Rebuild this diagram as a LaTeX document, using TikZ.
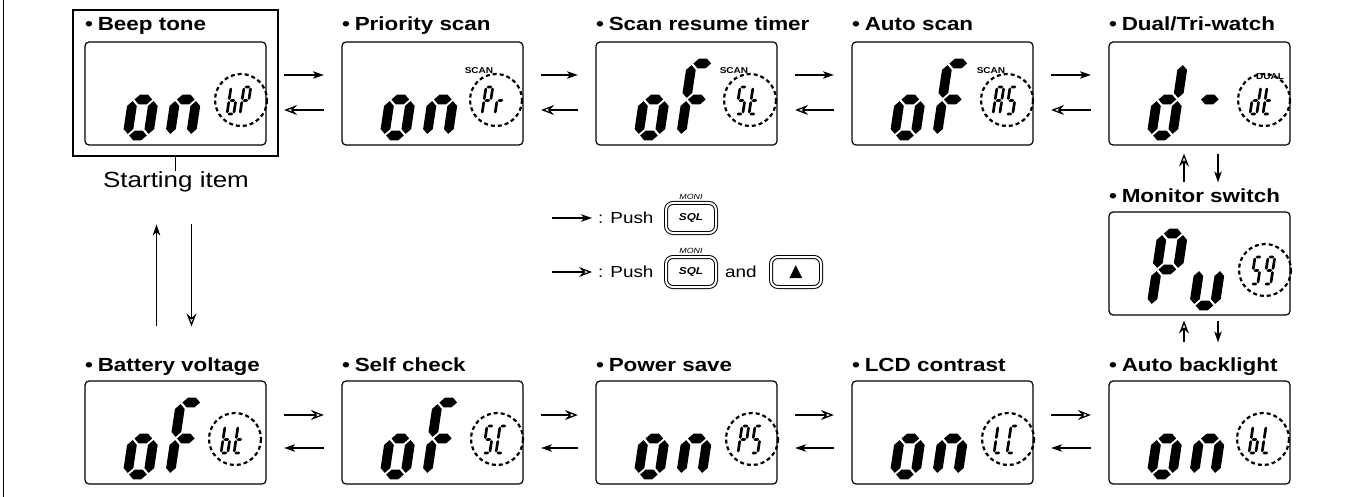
\documentclass[tikz,border=0pt]{standalone}
\usepackage{fontspec}
\setmainfont{Liberation Sans}[FakeStretch=1.18]
\newfontfamily\symfont{DejaVu Sans}
\usetikzlibrary{arrows.meta}
% seven-segment helpers: centreline box (0,0)-(W,2), half thickness K, gap G
\newcommand\hsg[3]{\fill (#1,#3) -- (#1+\sK,#3+\sK) -- (#2-\sK,#3+\sK) -- (#2,#3) -- (#2-\sK,#3-\sK) -- (#1+\sK,#3-\sK) -- cycle;}
\newcommand\vsg[3]{\fill (#1,#2) -- (#1+\sK,#2+\sK) -- (#1+\sK,#3-\sK) -- (#1,#3) -- (#1-\sK,#3-\sK) -- (#1-\sK,#2+\sK) -- cycle;}
\newcommand\lsega{\hsg{\sG}{\sW-\sG}{2}}
\newcommand\lsegb{\vsg{\sW}{1+\sG}{2-\sG}}
\newcommand\lsegc{\vsg{\sW}{\sG}{1-\sG}}
\newcommand\lsegd{\hsg{\sG}{\sW-\sG}{0}}
\newcommand\lsege{\vsg{0}{\sG}{1-\sG}}
\newcommand\lsegf{\vsg{0}{1+\sG}{2-\sG}}
\newcommand\lsegg{\hsg{\sG}{\sW-\sG}{1}}
% #1 x, #2 y (bottom-left centreline), #3 scale, #4 W, #5 K, #6 segments
\newcommand\lcdch[6]{\begin{scope}[shift={(#1,#2)},xslant=0.15,yscale=-1,scale=#3]\def\sW{#4}\def\sK{#5}\def\sG{0.045}\foreach \s in {#6}{\csname lseg\s\endcsname}\end{scope}}
\newcommand\disp[7]{%
  \lcdch{#1+42.5}{#2-9.5}{36}{0.58}{0.135}{#3}%
  \lcdch{#1+85}{#2-9.5}{36}{0.58}{0.135}{#4}%
  \draw[dcirc] (#1+#7,#2-45) circle[radius=26];%
  \lcdch{#1+#7-14}{#2-31}{13.5}{0.5}{0.1}{#5}%
  \lcdch{#1+#7-1}{#2-31}{13.5}{0.5}{0.1}{#6}}
\tikzset{
 lcdbox/.style={draw, line width=1.2pt, rounded corners=4pt, minimum width=181pt, minimum height=103pt, inner sep=0pt},
 ttl/.style={anchor=base west, inner sep=0pt, font=\fontsize{19}{21}\selectfont\bfseries},
 fwd/.style={-{Stealth[length=11pt,width=7.5pt,inset=3pt]}, line width=1.3pt},
 bk/.style={-{Stealth[open,length=13pt,width=10pt,inset=4.5pt]}, line width=1.3pt},
 dcirc/.style={dash pattern=on 4pt off 3pt, line width=2.2pt},
 tag/.style={font=\fontsize{8.5}{9}\selectfont\bfseries, inner sep=0pt},
 btn/.style={draw, double, double distance=2pt, line width=1pt, rounded corners=7pt, minimum width=50pt, minimum height=30pt, inner sep=0pt},
 lbl/.style={inner sep=0pt, font=\fontsize{16}{18}\selectfont},
}
\begin{document}
\begin{tikzpicture}[x=1pt,y=-1pt]
\useasboundingbox (0,0) rectangle (1354,497);
\draw[line width=1.5pt] (3.5,0) -- (3.5,497);
% frame of starting item
\node[draw, line width=2.4pt, minimum width=205pt, minimum height=146pt, inner sep=0pt] (frame) at (175.5,83) {};
% boxes
\node[lcdbox] (b1) at (175.5,93.5) {};
\node[lcdbox] (b2) at (432.5,93.5) {};
\node[lcdbox] (b3) at (686.5,93.5) {};
\node[lcdbox] (b4) at (942.5,93.5) {};
\node[lcdbox] (b5) at (1199.5,93.5) {};
\node[lcdbox] (b6) at (1199.5,263.5) {};
\node[lcdbox] (b7) at (1199.5,432.5) {};
\node[lcdbox] (b8) at (942.5,432.5) {};
\node[lcdbox] (b9) at (686.5,432.5) {};
\node[lcdbox] (b10) at (432.5,432.5) {};
\node[lcdbox] (b11) at (175.5,432.5) {};
% titles
\node[ttl] (t1) at (85,31) {•\hspace{0.25em}Beep tone};
\node[ttl] (t2) at (342,31) {•\hspace{0.25em}Priority scan};
\node[ttl] (t3) at (596,31) {•\hspace{0.25em}Scan resume timer};
\node[ttl] (t4) at (852,31) {•\hspace{0.25em}Auto scan};
\node[ttl] (t5) at (1109,31) {•\hspace{0.25em}Dual/Tri-watch};
\node[ttl] (t6) at (1109,203) {•\hspace{0.25em}Monitor switch};
\node[ttl] (t7) at (1109,371) {•\hspace{0.25em}Auto backlight};
\node[ttl] (t8) at (852,371) {•\hspace{0.25em}LCD contrast};
\node[ttl] (t9) at (596,371) {•\hspace{0.25em}Power save};
\node[ttl] (t10) at (342,371) {•\hspace{0.25em}Self check};
\node[ttl] (t11) at (85,371) {•\hspace{0.25em}Battery voltage};
% tags
\node[tag] (s2) at (479,71) {SCAN};
\node[tag] (s3) at (734,71) {SCAN};
\node[tag] (s4) at (991,71) {SCAN};
\node[tag] (s5) at (1270,77) {DUAL};
% displays
\disp{85}{145}{c,d,e,g}{c,e,g}{c,d,e,f,g}{a,b,e,f,g}{156}
\disp{342}{145}{c,d,e,g}{c,e,g}{a,b,e,f,g}{e,g}{154}
\disp{596}{145}{c,d,e,g}{a,e,f,g}{a,f,g,c,d}{d,e,f,g}{154}
\disp{852}{145}{c,d,e,g}{a,e,f,g}{a,b,c,e,f,g}{a,f,g,c,d}{155}
\disp{1109}{145}{b,c,d,e,g}{g}{b,c,d,e,g}{d,e,f,g}{155}
\disp{1109}{315}{a,b,e,f,g}{c,d,e}{a,f,g,c,d}{a,b,c,d,f,g}{156}
\disp{1109}{484}{c,d,e,g}{c,e,g}{c,d,e,f,g}{d,e,f}{154}
\disp{852}{484}{c,d,e,g}{c,e,g}{d,e,f}{a,d,e,f}{156}
\disp{596}{484}{c,d,e,g}{c,e,g}{a,b,e,f,g}{a,f,g,c,d}{156}
\disp{342}{484}{c,d,e,g}{a,e,f,g}{a,f,g,c,d}{a,d,e,f}{155}
\disp{85}{484}{c,d,e,g}{a,e,f,g}{c,d,e,f,g}{d,e,f,g}{150}
% starting item
\draw[line width=1.2pt] (frame.south) -- ++(0,14);
\node[anchor=base, inner sep=0pt, font=\fontsize{22}{24}\selectfont] (start) at (176,188) {Starting item};
% row 1 arrows
\foreach \a/\b in {b1/b2,b2/b3,b3/b4,b4/b5}{
  \draw[fwd, shorten <=17.5pt, shorten >=17.5pt] ([yshift=18.5pt]\a.east) -- ([yshift=18.5pt]\b.west);
  \draw[bk, shorten <=17.5pt, shorten >=17.5pt] ([yshift=-16.5pt]\b.west) -- ([yshift=-16.5pt]\a.east);
}
% row 3 arrows
\foreach \a/\b in {b11/b10,b10/b9,b9/b8,b8/b7}{
  \draw[bk, shorten <=17.5pt, shorten >=17.5pt] ([yshift=17.5pt]\a.east) -- ([yshift=17.5pt]\b.west);
  \draw[fwd, shorten <=17.5pt, shorten >=17.5pt] ([yshift=-15.5pt]\b.west) -- ([yshift=-15.5pt]\a.east);
}
% vertical arrows right column
\draw[bk] ([xshift=-15.5pt,yshift=29pt]b6.north) -- ([xshift=-15.5pt,yshift=-8pt]b5.south);
\draw[fwd] ([xshift=18.5pt,yshift=-8pt]b5.south) -- ([xshift=18.5pt,yshift=29pt]b6.north);
\draw[bk] ([xshift=-15.5pt,yshift=38pt]b7.north) -- ([xshift=-15.5pt,yshift=-5pt]b6.south);
\draw[fwd] ([xshift=18.5pt,yshift=-5pt]b6.south) -- ([xshift=18.5pt,yshift=38pt]b7.north);
% vertical arrows left column
\draw[fwd] ([xshift=-19pt,yshift=54pt]b11.north) -- ([xshift=-19pt,yshift=156pt]b11.north);
\draw[bk] ([xshift=16pt,yshift=156pt]b11.north) -- ([xshift=16pt,yshift=54pt]b11.north);
% legend
\coordinate (la1) at (552,218);
\coordinate (la2) at (552,272);
\node[lbl, anchor=west] (p1) at (598,218) {: Push};
\node[lbl, anchor=west] (p2) at (598,272) {: Push};
\draw[fwd, shorten >=6pt] (la1) -- (p1.west);
\draw[bk, shorten >=6pt] (la2) -- (p2.west);
\node[btn] (k1) at (691,218) {\fontsize{10}{10}\selectfont\bfseries\itshape SQL};
\node[btn] (k2) at (691,272) {\fontsize{10}{10}\selectfont\bfseries\itshape SQL};
\node[inner sep=0pt, font=\fontsize{7.5}{8}\selectfont\itshape] (m1) at (691,197) {MONI};
\node[inner sep=0pt, font=\fontsize{7.5}{8}\selectfont\itshape] (m2) at (691,251) {MONI};
\node[lbl, anchor=west] (and) at (725,272) {and};
\node[btn] (k3) at (796,272) {\symfont\fontsize{17}{17}\selectfont ▲};
\end{tikzpicture}
\end{document}
